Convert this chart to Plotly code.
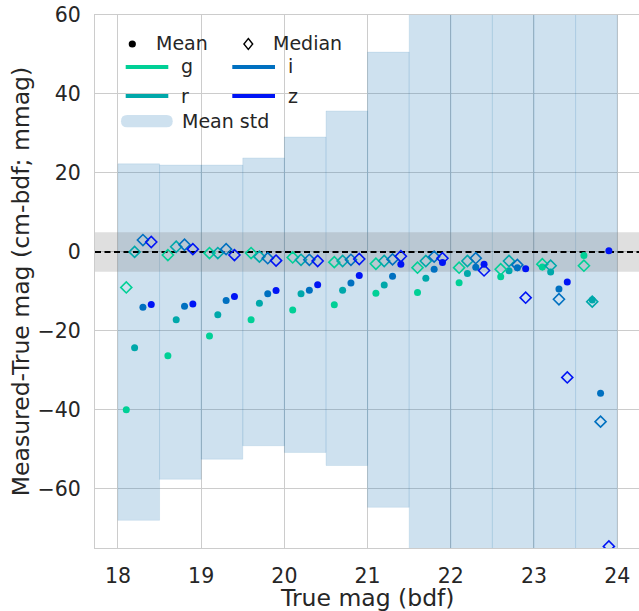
import plotly.graph_objects as go

# ---------------- data ----------------
bin_lo = [18.0, 18.5, 19.0, 19.5, 20.0, 20.5, 21.0, 21.5, 22.0, 22.5, 23.0, 23.5]
bin_hi = [18.5, 19.0, 19.5, 20.0, 20.5, 21.0, 21.5, 22.0, 22.5, 23.0, 23.5, 24.0]
band_upper = [22.3, 22.0, 22.0, 23.8, 29.1, 35.7, 50.6, 95, 95, 95, 95, 95]
band_lower = [-68.0, -57.6, -52.5, -49.1, -50.8, -54.1, -64.7, -110, -110, -110, -110, -110]

mag_g = [18.1, 18.6, 19.1, 19.6, 20.1, 20.6, 21.1, 21.6, 22.1, 22.6, 23.1, 23.6]
mag_r = [18.2, 18.7, 19.2, 19.7, 20.2, 20.7, 21.2, 21.7, 22.2, 22.7, 23.2, 23.7]
mag_i = [18.3, 18.8, 19.3, 19.8, 20.3, 20.8, 21.3, 21.8, 22.3, 22.8, 23.3, 23.8]
mag_z = [18.4, 18.9, 19.4, 19.9, 20.4, 20.9, 21.4, 21.9, 22.4, 22.9, 23.4, 23.9]

g_mean = [-40.0, -26.3, -21.3, -17.2, -14.7, -13.4, -10.5, -10.3, -7.8, -6.3, -3.8, -0.9]
r_mean = [-24.3, -17.2, -15.9, -13.0, -10.6, -9.7, -8.4, -6.7, -5.5, -4.8, -5.1, -12.2]
i_mean = [-14.0, -13.8, -12.3, -10.6, -9.7, -7.9, -6.2, -4.4, -3.9, -4.0, -9.4, -35.8]
z_mean = [-13.3, -13.2, -11.3, -9.8, -8.3, -6.0, -3.1, -2.7, -3.1, -4.3, -7.6, 0.3]

g_med = [-9.0, -0.8, -0.3, -0.3, -1.4, -2.6, -3.0, -4.0, -4.0, -4.4, -3.1, -3.5]
r_med = [0.0, 1.3, -0.3, -1.2, -2.0, -2.3, -2.3, -2.3, -2.3, -2.3, -3.5, -12.6]
i_med = [3.0, 1.8, 0.7, -1.6, -2.0, -2.0, -1.9, -1.2, -1.6, -3.3, -12.0, -43.0]
z_med = [2.5, 0.7, -0.8, -2.2, -2.3, -1.8, -1.1, -1.6, -4.7, -11.6, -31.8, -74.6]

filters = ["g", "r", "i", "z"]
colors = {"g": "#00d096", "r": "#00a8aa", "i": "#0070c0", "z": "#0014f5"}
mags = {"g": mag_g, "r": mag_r, "i": mag_i, "z": mag_z}
means = {"g": g_mean, "r": r_mean, "i": i_mean, "z": z_mean}
medians = {"g": g_med, "r": r_med, "i": i_med, "z": z_med}

x_ticks = [18, 19, 20, 21, 22, 23, 24]
y_ticks = [-60, -40, -20, 0, 20, 40, 60]
x_range = [17.724, 24.262]
y_range = [-75, 60]
tol_band = 5

# ---------------- figure ----------------
W, H = 639, 611
ML, MR, MT, MB = 95, 0, 15, 63
PW, PH = W - ML - MR, H - MT - MB

FONT = "DejaVu Sans"
TXT = "#262626"
BAND = "rgba(31,119,180,0.22)"

fig = go.Figure()

# std bands, one polygon per bin
for lo, hi, up, dn in zip(bin_lo, bin_hi, band_upper, band_lower):
    fig.add_trace(go.Scatter(
        x=[lo, hi, hi, lo, lo], y=[dn, dn, up, up, dn],
        mode="lines", fill="toself", fillcolor=BAND,
        line=dict(color="rgba(31,119,180,0.10)", width=1),
        hoverinfo="skip", showlegend=False))

# tolerance band +-5
fig.add_trace(go.Scatter(
    x=[x_range[0], x_range[1], x_range[1], x_range[0], x_range[0]],
    y=[-tol_band, -tol_band, tol_band, tol_band, -tol_band],
    mode="lines", fill="toself", fillcolor="rgba(128,128,128,0.25)",
    line=dict(width=0), hoverinfo="skip", showlegend=False))

# zero line
fig.add_trace(go.Scatter(
    x=x_range, y=[0, 0], mode="lines",
    line=dict(color="black", width=2, dash="6px,3.5px"),
    hoverinfo="skip", showlegend=False))

for f in filters:
    fig.add_trace(go.Scatter(
        x=mags[f], y=means[f], mode="markers",
        marker=dict(symbol="circle", size=7, color=colors[f], line=dict(width=0)),
        showlegend=False))
for f in filters:
    fig.add_trace(go.Scatter(
        x=mags[f], y=medians[f], mode="markers",
        marker=dict(symbol="diamond-open", size=8.5, color=colors[f],
                    line=dict(width=1.6, color=colors[f])),
        showlegend=False))

shapes = []


def px(xp):
    return (xp - ML) / PW


def py(yp):
    return (H - MB - yp) / PH


annotations = []


def leg_text(x, y, s):
    annotations.append(dict(text=s, x=px(x - 3), y=py(y), xref="paper", yref="paper",
                            xanchor="left", yanchor="middle", showarrow=False,
                            font=dict(family=FONT, size=19, color=TXT)))


# legend: row 1
r = 3.6
shapes.append(dict(type="circle", xref="paper", yref="paper",
                   x0=px(132.3 - r), x1=px(132.3 + r), y0=py(44 + r), y1=py(44 - r),
                   fillcolor="black", line=dict(width=0)))
cx, cy, d = 248.3, 44, 5.5
shapes.append(dict(type="path", xref="paper", yref="paper",
                   path=f"M {px(cx)},{py(cy - d)} L {px(cx + d * 0.8)},{py(cy)} L {px(cx)},{py(cy + d)} L {px(cx - d * 0.8)},{py(cy)} Z",
                   line=dict(color="black", width=1.4)))
leg_text(157, 43, "Mean")
leg_text(274, 43, "Median")

# legend: lines
for f, (x0, x1, ty, tx) in {"g": (125.7, 168.3, 67, 182), "i": (232.3, 275, 67, 289),
                            "r": (125.7, 168.3, 96, 182), "z": (232.3, 275, 96, 289)}.items():
    shapes.append(dict(type="line", xref="paper", yref="paper",
                       x0=px(x0), x1=px(x1), y0=py(ty), y1=py(ty),
                       line=dict(color=colors[f], width=4)))
    leg_text(tx, ty - 0.5, f)

# legend: band patch (rounded)
x0, x1, y0, y1, rr = 121, 172.7, 115, 127.3, 6.1
path = (f"M {px(x0 + rr)},{py(y0)} L {px(x1 - rr)},{py(y0)} "
        f"Q {px(x1)},{py(y0)} {px(x1)},{py((y0 + y1) / 2)} "
        f"Q {px(x1)},{py(y1)} {px(x1 - rr)},{py(y1)} "
        f"L {px(x0 + rr)},{py(y1)} "
        f"Q {px(x0)},{py(y1)} {px(x0)},{py((y0 + y1) / 2)} "
        f"Q {px(x0)},{py(y0)} {px(x0 + rr)},{py(y0)} Z")
shapes.append(dict(type="path", xref="paper", yref="paper", path=path,
                   fillcolor=BAND, line=dict(width=0)))
leg_text(183, 121, "Mean std")

# x-axis title (placed as annotation so it can sit at the reference position)
annotations.append(dict(text="True mag (bdf)", x=0.5, y=py(597.5), xref="x domain",
                        yref="paper", xanchor="center", yanchor="middle",
                        showarrow=False, font=dict(family=FONT, size=23.5, color=TXT)))

fig.update_layout(
    width=W, height=H,
    margin=dict(l=ML, r=MR, t=MT, b=MB, pad=0, autoexpand=False),
    paper_bgcolor="white", plot_bgcolor="white",
    font=dict(family=FONT, color=TXT),
    shapes=shapes, annotations=annotations,
    showlegend=False,
    xaxis=dict(range=x_range, tickvals=x_ticks, ticktext=[str(v) for v in x_ticks],
               automargin=False,
               showgrid=True, gridcolor="#cccccc", gridwidth=1.2, zeroline=False,
               showline=True, linecolor="#cccccc", linewidth=1.3, mirror=True,
               ticks="", ticklabelstandoff=9,
               tickfont=dict(family=FONT, size=20.5, color=TXT)),
    yaxis=dict(range=y_range, tickvals=y_ticks, automargin=False,
               showgrid=True, gridcolor="#cccccc", gridwidth=1.2, zeroline=False,
               showline=True, linecolor="#cccccc", linewidth=1.3, mirror=False,
               ticks="", ticklabelstandoff=9,
               tickfont=dict(family=FONT, size=20.5, color=TXT),
               title=dict(text="Measured-True mag (cm-bdf; mmag)", standoff=1,
                          font=dict(family=FONT, size=23.5, color=TXT))),
)

fig.write_html("out.html", config={"displayModeBar": False},
               post_script="document.body.style.margin='0';document.body.style.overflow='hidden';")
